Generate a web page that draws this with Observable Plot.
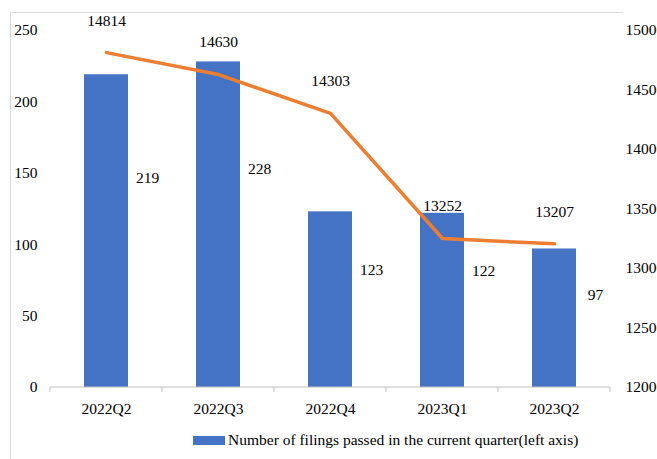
<!DOCTYPE html>
<html>
<head>
<meta charset="utf-8">
<script src="https://cdn.jsdelivr.net/npm/d3@7"></script>
<script src="https://cdn.jsdelivr.net/npm/@observablehq/plot@0.6"></script>
<style>
  html, body { margin: 0; padding: 0; background: #fff; overflow: hidden; }
  #wrap { position: relative; width: 657px; height: 459px; font-family: "Liberation Serif", "Times New Roman", serif; }
  #frame { position: absolute; left: 10px; top: 12px; width: 612px; height: 470px; border-top: 1px solid #d9d9d9; border-left: 1px solid #d9d9d9; }
  #chart { position: absolute; left: 0; top: 0; }
  #legend { position: absolute; left: 193px; top: 431px; display: flex; align-items: center; font-size: 15.5px; color: #000; white-space: nowrap; }
  #legend .sw { width: 32px; height: 9px; background: #4472C4; margin-right: 3px; }
</style>
</head>
<body>
<div id="wrap">
  <div id="frame"></div>
  <div id="chart"></div>
  <div id="legend"><span class="sw"></span><span>Number of filings passed in the current quarter(left axis)</span></div>
</div>
<script>
const categories = ["2022Q2", "2022Q3", "2022Q4", "2023Q1", "2023Q2"];
const filings = [219, 228, 123, 122, 97];
const totals = [14814, 14630, 14303, 13252, 13207];
const leftTicks = [0, 50, 100, 150, 200, 250];
const rightTicks = [12000, 12500, 13000, 13500, 14000, 14500, 15000];

const data = categories.map((q, i) => ({ q, v: filings[i], t: totals[i] }));
const r = d3.scaleLinear([12000, 15000], [0, 250]);

const baseline = (index, scales, values, dims) => {
  const g = d3.create("svg:g");
  const x = scales.x;
  const bw = x.bandwidth ? x.bandwidth() : 0;
  const y0 = scales.y(0);
  const xs = categories.map(c => x(c));
  xs.push(x(categories[categories.length - 1]) + bw);
  g.append("line")
    .attr("x1", xs[0]).attr("x2", xs[xs.length - 1])
    .attr("y1", y0).attr("y2", y0)
    .attr("stroke", "#bfbfbf").attr("stroke-width", 1);
  xs.forEach(px => {
    g.append("line")
      .attr("x1", px).attr("x2", px)
      .attr("y1", y0).attr("y2", y0 + 5)
      .attr("stroke", "#bfbfbf").attr("stroke-width", 1);
  });
  return g.node();
};

const chart = Plot.plot({
  width: 657,
  height: 425,
  marginLeft: 50,
  marginRight: 47,
  marginTop: 30,
  marginBottom: 38,
  style: { fontFamily: "'Liberation Serif', 'Times New Roman', serif", fontSize: "15.5px", color: "#000", background: "transparent", overflow: "visible" },
  x: { domain: categories, padding: 0, label: null },
  y: { domain: [0, 250], label: null },
  marks: [
    Plot.barY(data, { x: "q", y: "v", fill: "#4472C4", insetLeft: 34, insetRight: 34 }),
    baseline,
    Plot.line(data, { x: "q", y: d => r(d.t), stroke: "#ED7D31", strokeWidth: 3.5, strokeLinejoin: "round" }),
    Plot.text(data, { x: "q", y: d => r(d.t), text: d => String(d.t), dy: -32, fill: "#000" }),
    Plot.text(data, { x: "q", y: d => d.v * 0.67, text: d => String(d.v), dx: 41, fill: "#000" }),
    Plot.axisY(leftTicks, { tickSize: 0, tickPadding: 13, label: null, fill: "#000" }),
    Plot.text(rightTicks, { y: d => r(d), text: d => String(d), frameAnchor: "right", textAnchor: "start", dx: 15, fill: "#000" }),
    Plot.axisX({ tickSize: 0, tickPadding: 15, label: null, fill: "#000" })
  ]
});
document.getElementById("chart").appendChild(chart);
</script>
</body>
</html>
